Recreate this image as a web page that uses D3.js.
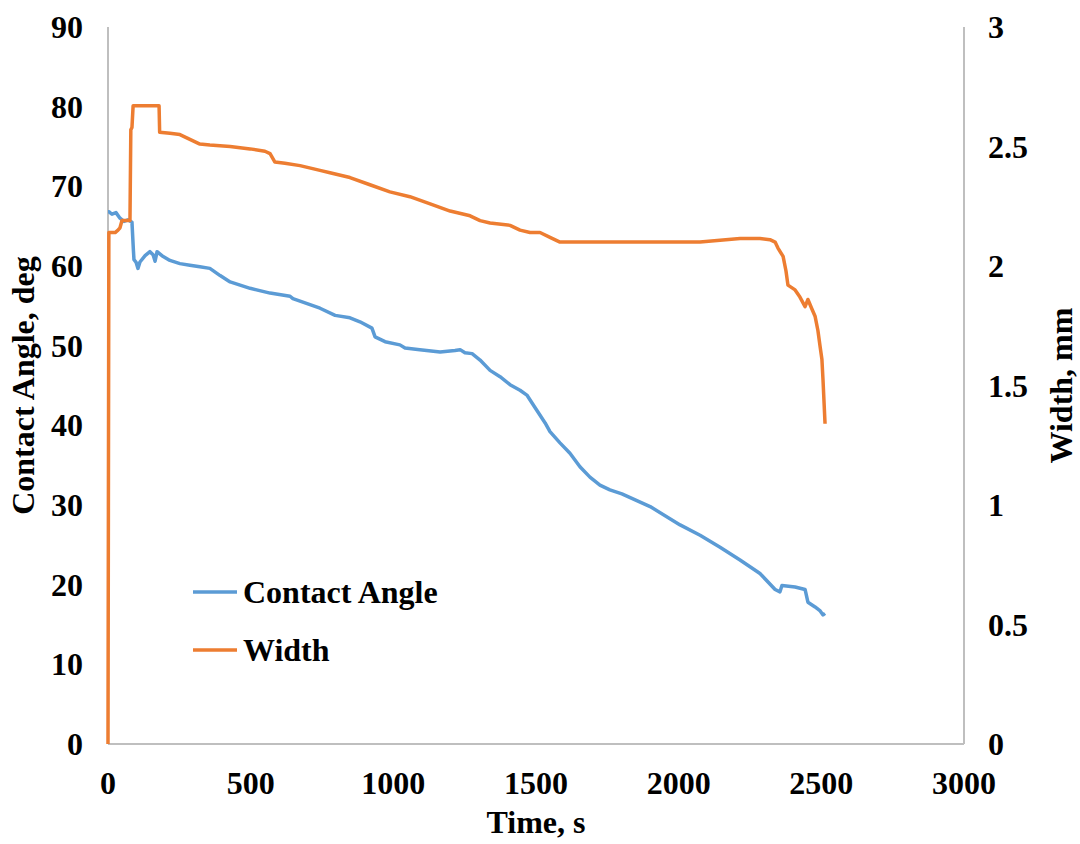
<!DOCTYPE html>
<html>
<head>
<meta charset="utf-8">
<script src="https://cdn.jsdelivr.net/npm/d3@7"></script>
<style>
    body { margin: 0; background: #fff; }
    svg text { font-family: "Liberation Serif", "Times New Roman", serif; font-weight: bold; fill: #000; }
</style>
</head>
<body>
<svg id="chart" width="1080" height="844"></svg>
<script>
// contact angle, deg (left axis)
var angle_time = [0, 4, 14, 28, 42, 56, 70, 84, 89, 91, 98, 105, 112, 130, 147, 158, 165, 172, 189, 217, 252, 287, 322, 357,
    393, 428, 498, 568, 638, 648, 743, 796, 848, 883, 925, 936, 971, 1023, 1041, 1093, 1164, 1216, 1234, 1251, 1276,
    1304, 1339, 1374, 1409, 1444, 1468, 1497, 1532, 1549, 1584, 1619, 1654, 1689, 1724, 1759, 1801, 1900, 2005, 2075,
    2145, 2215, 2285, 2338, 2355, 2362, 2408, 2443, 2453, 2478, 2496, 2506, 2513];
var angle_value = [66.8, 66.8, 66.5, 66.7, 66.0, 65.6, 65.8, 65.5, 62.0, 60.8, 60.5, 59.7, 60.5, 61.3, 61.8, 61.4, 60.6, 61.8, 61.3, 60.7, 60.3, 60.1, 59.9, 59.7,
    58.8, 58.0, 57.2, 56.6, 56.2, 55.9, 54.7, 53.8, 53.5, 53.0, 52.2, 51.1, 50.5, 50.1, 49.7, 49.5, 49.2, 49.4, 49.5, 49.1, 49.0,
    48.2, 46.9, 46.1, 45.1, 44.4, 43.8, 42.2, 40.3, 39.2, 37.8, 36.5, 34.8, 33.5, 32.5, 31.9, 31.4, 29.8, 27.5, 26.2,
    24.7, 23.1, 21.4, 19.4, 19.1, 19.9, 19.7, 19.4, 17.8, 17.2, 16.7, 16.2, 16.4];

// width, mm (right axis)
var width_time = [0, 3, 25, 35, 42, 49, 77, 80, 84, 88, 179, 181, 217, 252, 287, 322, 357, 428, 498, 550, 568, 585, 620,
    673, 743, 778, 848, 918, 988, 1058, 1129, 1199, 1269, 1304, 1339, 1409, 1444, 1479, 1514, 1549, 1584, 1619,
    1724, 1900, 2075, 2215, 2285, 2320, 2338, 2348, 2366, 2376, 2383, 2408, 2425, 2443, 2453, 2467, 2478, 2488,
    2496, 2502, 2506, 2513];
var width_value = [0, 2.14, 2.14, 2.15, 2.16, 2.19, 2.19, 2.57, 2.58, 2.67, 2.67, 2.56, 2.555, 2.55, 2.53, 2.51, 2.506, 2.50, 2.49, 2.48, 2.47, 2.435, 2.43,
    2.42, 2.40, 2.39, 2.37, 2.34, 2.31, 2.29, 2.26, 2.23, 2.21, 2.19, 2.18, 2.17, 2.15, 2.14, 2.14, 2.12, 2.10, 2.10,
    2.10, 2.10, 2.10, 2.115, 2.115, 2.11, 2.10, 2.075, 2.04, 1.98, 1.92, 1.90, 1.87, 1.83, 1.86, 1.82, 1.79, 1.73,
    1.66, 1.61, 1.52, 1.34];

var x_ticks = [0, 500, 1000, 1500, 2000, 2500, 3000];
var left_ticks = [0, 10, 20, 30, 40, 50, 60, 70, 80, 90];
var right_ticks = [0, 0.5, 1, 1.5, 2, 2.5, 3];
var series_names = ["Contact Angle", "Width"];
var series_colors = ["#5B9BD5", "#ED7D31"];

var svg = d3.select("#chart");
var plot_left = 108, plot_right = 964, plot_top = 27, plot_bottom = 744;

var x = d3.scaleLinear().domain([0, 3000]).range([plot_left, plot_right]);
var yL = d3.scaleLinear().domain([0, 90]).range([plot_bottom, plot_top]);
var yR = d3.scaleLinear().domain([0, 3]).range([plot_bottom, plot_top]);

// frame: left, right, bottom
svg.append("g").selectAll("line")
    .data([[plot_left, plot_top, plot_left, plot_bottom], [plot_right, plot_top, plot_right, plot_bottom], [plot_left, plot_bottom, plot_right, plot_bottom]])
    .enter().append("line")
    .attr("x1", function (d) { return d[0]; })
    .attr("y1", function (d) { return d[1]; })
    .attr("x2", function (d) { return d[2]; })
    .attr("y2", function (d) { return d[3]; })
    .attr("stroke", "#bfbfbf")
    .attr("stroke-width", 2);

// tick labels
svg.append("g").selectAll("text")
    .data(x_ticks)
    .enter().append("text")
    .attr("x", function (d) { return x(d); })
    .attr("y", 794)
    .attr("text-anchor", "middle")
    .attr("font-size", 32)
    .text(function (d) { return d; });

svg.append("g").selectAll("text")
    .data(left_ticks)
    .enter().append("text")
    .attr("x", 83)
    .attr("y", function (d) { return yL(d) + 11; })
    .attr("text-anchor", "end")
    .attr("font-size", 32)
    .text(function (d) { return d; });

svg.append("g").selectAll("text")
    .data(right_ticks)
    .enter().append("text")
    .attr("x", 988)
    .attr("y", function (d) { return yR(d) + 11; })
    .attr("text-anchor", "start")
    .attr("font-size", 32)
    .text(function (d) { return d; });

// axis titles
svg.append("text")
    .attr("x", (plot_left + plot_right) / 2)
    .attr("y", 833)
    .attr("text-anchor", "middle")
    .attr("font-size", 32)
    .text("Time, s");

svg.append("text")
    .attr("transform", "translate(34," + (plot_top + plot_bottom) / 2 + ") rotate(-90)")
    .attr("text-anchor", "middle")
    .attr("font-size", 32)
    .text("Contact Angle, deg");

svg.append("text")
    .attr("transform", "translate(1072," + (plot_top + plot_bottom) / 2 + ") rotate(-90)")
    .attr("text-anchor", "middle")
    .attr("font-size", 32)
    .text("Width, mm");

// lines
var angle_line = d3.line()
    .x(function (d, i) { return x(angle_time[i]); })
    .y(function (d) { return yL(d); });
var width_line = d3.line()
    .x(function (d, i) { return x(width_time[i]); })
    .y(function (d) { return yR(d); });

svg.append("path")
    .attr("d", angle_line(angle_value))
    .attr("fill", "none")
    .attr("stroke", series_colors[0])
    .attr("stroke-width", 3.5)
    .attr("stroke-linejoin", "round");

svg.append("path")
    .attr("d", width_line(width_value))
    .attr("fill", "none")
    .attr("stroke", series_colors[1])
    .attr("stroke-width", 3.5)
    .attr("stroke-linejoin", "round");

// legend
var legend = svg.append("g").selectAll("g")
    .data(series_names)
    .enter().append("g")
    .attr("transform", function (d, i) { return "translate(193," + (592 + i * 58) + ")"; });
legend.append("line")
    .attr("x1", 0).attr("x2", 44)
    .attr("stroke", function (d, i) { return series_colors[i]; })
    .attr("stroke-width", 3.5);
legend.append("text")
    .attr("x", 50)
    .attr("y", 11)
    .attr("font-size", 32)
    .text(function (d) { return d; });
</script>
</body>
</html>
